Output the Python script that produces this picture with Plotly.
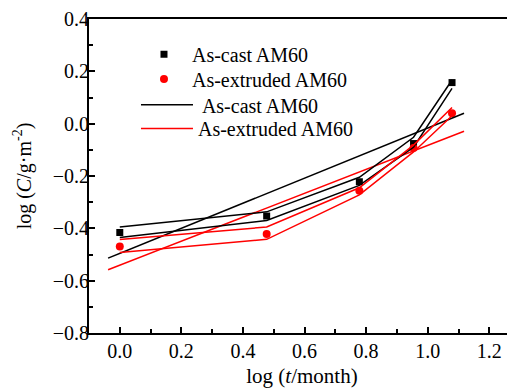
import plotly.graph_objects as go

# Data
x_time = [0.0, 0.477, 0.778, 0.954, 1.079]
cast_vals = [-0.416, -0.353, -0.222, -0.076, 0.157]
extruded_vals = [-0.469, -0.422, -0.256, -0.093, 0.040]

# Linear fits
fit_x = [-0.038, 1.118]
cast_fit = [-0.514, 0.040]
extruded_fit = [-0.558, -0.029]

# Band polylines
cast_upper = [-0.395, -0.337, -0.205, -0.052, 0.167]
cast_lower = [-0.435, -0.370, -0.236, -0.090, 0.135]
extruded_upper = [-0.443, -0.395, -0.245, -0.082, 0.062]
extruded_lower = [-0.492, -0.442, -0.272, -0.108, 0.030]

FONT = "Liberation Serif"
BLACK = "#000000"
RED = "#ff0000"

fig = go.Figure()

fig.add_trace(go.Scatter(x=x_time, y=cast_vals, mode="markers", name="As-cast AM60", legend="legend",
                         marker=dict(symbol="square", size=7, color=BLACK)))
fig.add_trace(go.Scatter(x=x_time, y=extruded_vals, mode="markers", name="As-extruded AM60", legend="legend2",
                         marker=dict(symbol="circle", size=8, color=RED)))
fig.add_trace(go.Scatter(x=fit_x, y=cast_fit, mode="lines", name=" As-cast AM60", legend="legend3",
                         line=dict(color=BLACK, width=1.5)))
fig.add_trace(go.Scatter(x=fit_x, y=extruded_fit, mode="lines", name="As-extruded AM60", legend="legend4",
                         line=dict(color=RED, width=1.5)))
for ys, c in [(cast_upper, BLACK), (cast_lower, BLACK), (extruded_upper, RED), (extruded_lower, RED)]:
    fig.add_trace(go.Scatter(x=x_time, y=ys, mode="lines", showlegend=False,
                             line=dict(color=c, width=1.5), hoverinfo="skip"))

axis_common = dict(
    showgrid=False, zeroline=False, showline=True, linecolor=BLACK, linewidth=2,
    ticks="inside", ticklen=6, tickwidth=1.5, tickcolor=BLACK, ticklabeloverflow="allow",
    tickfont=dict(family=FONT, size=20, color=BLACK),
)

legend_common = dict(x=0.1103, xanchor="left", yanchor="top", bgcolor="rgba(0,0,0,0)",
                     font=dict(family=FONT, size=20, color=BLACK))

# page body has an 8px margin; size figure so plot area lands where the reference has it
fig.update_layout(
    width=507, height=381,
    margin=dict(l=81, r=0, t=8, b=56),
    paper_bgcolor="white", plot_bgcolor="white",
    font=dict(family=FONT, color=BLACK),
    xaxis=dict(range=[-0.1, 1.2835], dtick=0.2, tick0=0, tickformat=".1f", mirror=True,
               ticklabelstandoff=-1,
               minor=dict(ticks="inside", dtick=0.1, tick0=0, ticklen=4, tickwidth=1.5, tickcolor=BLACK),
               title=dict(text="log (<i>t</i>/month)", font=dict(family=FONT, size=21, color=BLACK), standoff=7),
               **axis_common),
    yaxis=dict(range=[-0.8, 0.4], dtick=0.2, tick0=0, tickformat=".1f",
               ticklabelstandoff=-6,
               minor=dict(ticks="inside", dtick=0.1, tick0=0, ticklen=4, tickwidth=1.5, tickcolor=BLACK),
               title=dict(text="log (<i>C</i>/g·m<sup>-2</sup>)", font=dict(family=FONT, size=20, color=BLACK), standoff=16),
               **axis_common),
    legend=dict(y=0.9496, itemwidth=46, **legend_common),
    legend2=dict(y=0.8707, itemwidth=46, **legend_common),
    legend3=dict(y=0.7887, itemwidth=52, **legend_common),
    legend4=dict(y=0.7130, itemwidth=52, **legend_common),
    showlegend=True,
)

fig.write_html("out.html")
